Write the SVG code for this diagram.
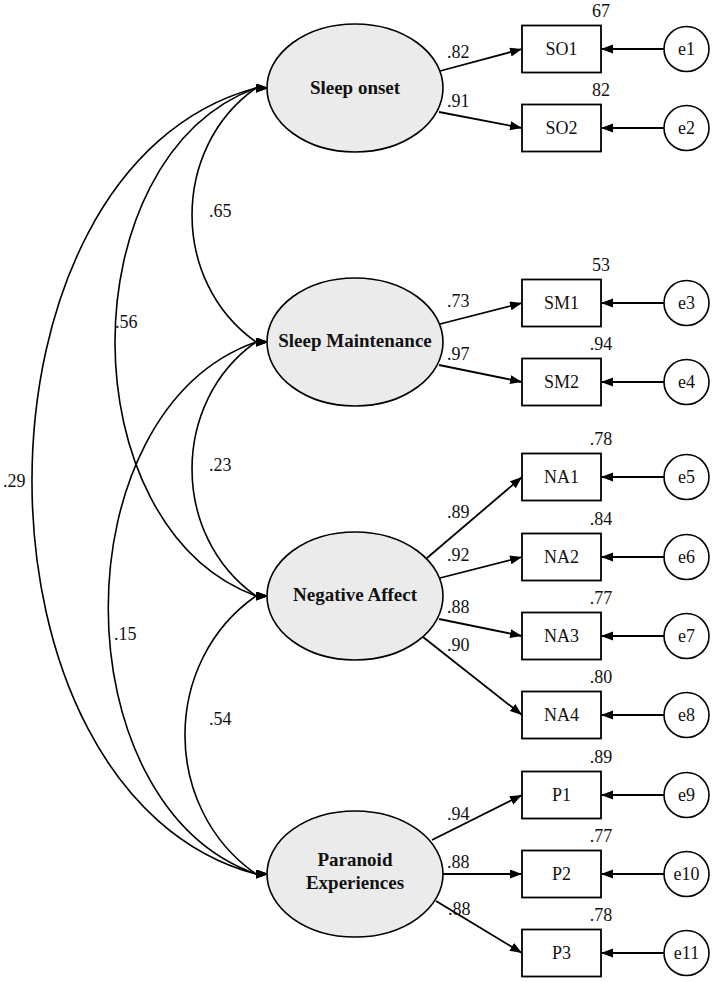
<svg xmlns="http://www.w3.org/2000/svg" width="714" height="982" viewBox="0 0 714 982">
<style>
  .lat { fill: #ebebeb; stroke: #000; stroke-width: 1.6; }
  .box { fill: #fff; stroke: #000; stroke-width: 1.8; }
  .err { fill: #fff; stroke: #000; stroke-width: 1.6; }
  .ln { fill: none; stroke: #000; stroke-width: 1.8; }
  .cov { fill: none; stroke: #000; stroke-width: 1.6; }
  text { font-family: "Liberation Serif", "Times New Roman", serif; font-size: 18px; fill: #111; }
  .bold { font-weight: bold; font-size: 19px; text-anchor: middle; }
  .mid { text-anchor: middle; }
</style>
<defs>
  <marker id="arr" markerUnits="userSpaceOnUse" markerWidth="13" markerHeight="10" refX="12" refY="4.5" orient="auto">
    <path d="M0,0 L12,4.5 L0,9 z" fill="#000"/>
  </marker>
  <marker id="covarr" markerUnits="userSpaceOnUse" markerWidth="13" markerHeight="10" refX="0" refY="4.5" orient="0">
    <path d="M0,0 L12.5,4.5 L0,9 z" fill="#000"/>
  </marker>
</defs>

<g id="connectors">
  <!-- covariances -->
  <path class="cov" d="M256,88 C170.7,148 170.7,282 256,342" marker-start="url(#covarr)" marker-end="url(#covarr)"/>
  <path class="cov" d="M256,88 C68,158 68,526 256,596" marker-start="url(#covarr)" marker-end="url(#covarr)"/>
  <path class="cov" d="M256,88 C-42.7,168 -42.7,794 256,874" marker-start="url(#covarr)" marker-end="url(#covarr)"/>
  <path class="cov" d="M256,342 C170.7,402 170.7,536 256,596" marker-start="url(#covarr)" marker-end="url(#covarr)"/>
  <path class="cov" d="M256,342 C59,412 59,804 256,874" marker-start="url(#covarr)" marker-end="url(#covarr)"/>
  <path class="cov" d="M256,596 C161.3,662 161.3,808 256,874" marker-start="url(#covarr)" marker-end="url(#covarr)"/>
  <!-- loadings -->
  <line class="ln" x1="440" y1="71" x2="522" y2="49" marker-end="url(#arr)"/>
  <line class="ln" x1="439" y1="112" x2="522" y2="128" marker-end="url(#arr)"/>
  <line class="ln" x1="440" y1="324" x2="522" y2="303" marker-end="url(#arr)"/>
  <line class="ln" x1="439" y1="365" x2="522" y2="382" marker-end="url(#arr)"/>
  <line class="ln" x1="427" y1="558" x2="522" y2="477" marker-end="url(#arr)"/>
  <line class="ln" x1="440" y1="578" x2="522" y2="557" marker-end="url(#arr)"/>
  <line class="ln" x1="439" y1="619" x2="522" y2="636" marker-end="url(#arr)"/>
  <line class="ln" x1="423" y1="637" x2="522" y2="715" marker-end="url(#arr)"/>
  <line class="ln" x1="432" y1="840" x2="522" y2="795" marker-end="url(#arr)"/>
  <line class="ln" x1="443" y1="874" x2="522" y2="874" marker-end="url(#arr)"/>
  <line class="ln" x1="436" y1="901" x2="522" y2="953" marker-end="url(#arr)"/>
  <!-- error arrows -->
  <line class="ln" x1="664" y1="49" x2="601" y2="49" marker-end="url(#arr)"/>
  <line class="ln" x1="664" y1="128" x2="601" y2="128" marker-end="url(#arr)"/>
  <line class="ln" x1="664" y1="303" x2="601" y2="303" marker-end="url(#arr)"/>
  <line class="ln" x1="664" y1="382" x2="601" y2="382" marker-end="url(#arr)"/>
  <line class="ln" x1="664" y1="477" x2="601" y2="477" marker-end="url(#arr)"/>
  <line class="ln" x1="664" y1="557" x2="601" y2="557" marker-end="url(#arr)"/>
  <line class="ln" x1="664" y1="636" x2="601" y2="636" marker-end="url(#arr)"/>
  <line class="ln" x1="664" y1="715" x2="601" y2="715" marker-end="url(#arr)"/>
  <line class="ln" x1="664" y1="795" x2="601" y2="795" marker-end="url(#arr)"/>
  <line class="ln" x1="664" y1="874" x2="601" y2="874" marker-end="url(#arr)"/>
  <line class="ln" x1="664" y1="953" x2="601" y2="953" marker-end="url(#arr)"/>
  <!-- labels -->
  <text x="209" y="217">.65</text>
  <text x="115" y="328">.56</text>
  <text x="3" y="487">.29</text>
  <text x="209" y="471">.23</text>
  <text x="114" y="640">.15</text>
  <text x="209" y="725">.54</text>
  <text x="447" y="58">.82</text>
  <text x="447" y="107">.91</text>
  <text x="447" y="307">.73</text>
  <text x="447" y="360">.97</text>
  <text x="447" y="518">.89</text>
  <text x="447" y="561">.92</text>
  <text x="447" y="613">.88</text>
  <text x="447" y="651">.90</text>
  <text x="447" y="820">.94</text>
  <text x="447" y="868">.88</text>
  <text x="448" y="915">.88</text>
</g>

<g id="SleepOnset">
  <ellipse class="lat" cx="355" cy="88" rx="88" ry="64"/>
  <text class="bold" x="355" y="93.5">Sleep onset</text>
</g>
<g id="SleepMaintenance">
  <ellipse class="lat" cx="355" cy="342" rx="88" ry="64"/>
  <text class="bold" x="355" y="347">Sleep Maintenance</text>
</g>
<g id="NegativeAffect">
  <ellipse class="lat" cx="355" cy="596" rx="88" ry="64"/>
  <text class="bold" x="355" y="601">Negative Affect</text>
</g>
<g id="ParanoidExperiences">
  <ellipse class="lat" cx="355" cy="874" rx="88" ry="63"/>
  <text class="bold" x="355" y="866">Paranoid</text>
  <text class="bold" x="355" y="889">Experiences</text>
</g>

<g id="SO1"><rect class="box" x="522" y="25.5" width="79" height="47"/><text class="mid" x="561.5" y="55">SO1</text><text class="mid" x="601" y="17">67</text></g>
<g id="SO2"><rect class="box" x="522" y="104.5" width="79" height="47"/><text class="mid" x="561.5" y="134">SO2</text><text class="mid" x="601" y="96">82</text></g>
<g id="SM1"><rect class="box" x="522" y="279.5" width="79" height="47"/><text class="mid" x="561.5" y="309">SM1</text><text class="mid" x="601" y="271">53</text></g>
<g id="SM2"><rect class="box" x="522" y="358.5" width="79" height="47"/><text class="mid" x="561.5" y="388">SM2</text><text class="mid" x="601" y="350">.94</text></g>
<g id="NA1"><rect class="box" x="522" y="453.5" width="79" height="47"/><text class="mid" x="561.5" y="483">NA1</text><text class="mid" x="601" y="445">.78</text></g>
<g id="NA2"><rect class="box" x="522" y="533.5" width="79" height="47"/><text class="mid" x="561.5" y="563">NA2</text><text class="mid" x="601" y="525">.84</text></g>
<g id="NA3"><rect class="box" x="522" y="612.5" width="79" height="47"/><text class="mid" x="561.5" y="642">NA3</text><text class="mid" x="601" y="604">.77</text></g>
<g id="NA4"><rect class="box" x="522" y="691.5" width="79" height="47"/><text class="mid" x="561.5" y="721">NA4</text><text class="mid" x="601" y="683">.80</text></g>
<g id="P1"><rect class="box" x="522" y="771.5" width="79" height="47"/><text class="mid" x="561.5" y="801">P1</text><text class="mid" x="601" y="763">.89</text></g>
<g id="P2"><rect class="box" x="522" y="850.5" width="79" height="47"/><text class="mid" x="561.5" y="880">P2</text><text class="mid" x="601" y="842">.77</text></g>
<g id="P3"><rect class="box" x="522" y="929.5" width="79" height="47"/><text class="mid" x="561.5" y="959">P3</text><text class="mid" x="601" y="921">.78</text></g>

<g id="e1"><circle class="err" cx="686.5" cy="49" r="22.5"/><text class="mid" x="686.5" y="55">e1</text></g>
<g id="e2"><circle class="err" cx="686.5" cy="128" r="22.5"/><text class="mid" x="686.5" y="134">e2</text></g>
<g id="e3"><circle class="err" cx="686.5" cy="303" r="22.5"/><text class="mid" x="686.5" y="309">e3</text></g>
<g id="e4"><circle class="err" cx="686.5" cy="382" r="22.5"/><text class="mid" x="686.5" y="388">e4</text></g>
<g id="e5"><circle class="err" cx="686.5" cy="477" r="22.5"/><text class="mid" x="686.5" y="483">e5</text></g>
<g id="e6"><circle class="err" cx="686.5" cy="557" r="22.5"/><text class="mid" x="686.5" y="563">e6</text></g>
<g id="e7"><circle class="err" cx="686.5" cy="636" r="22.5"/><text class="mid" x="686.5" y="642">e7</text></g>
<g id="e8"><circle class="err" cx="686.5" cy="715" r="22.5"/><text class="mid" x="686.5" y="721">e8</text></g>
<g id="e9"><circle class="err" cx="686.5" cy="795" r="22.5"/><text class="mid" x="686.5" y="801">e9</text></g>
<g id="e10"><circle class="err" cx="686.5" cy="874" r="22.5"/><text class="mid" x="686.5" y="880">e10</text></g>
<g id="e11"><circle class="err" cx="686.5" cy="953" r="22.5"/><text class="mid" x="686.5" y="959">e11</text></g>
</svg>
